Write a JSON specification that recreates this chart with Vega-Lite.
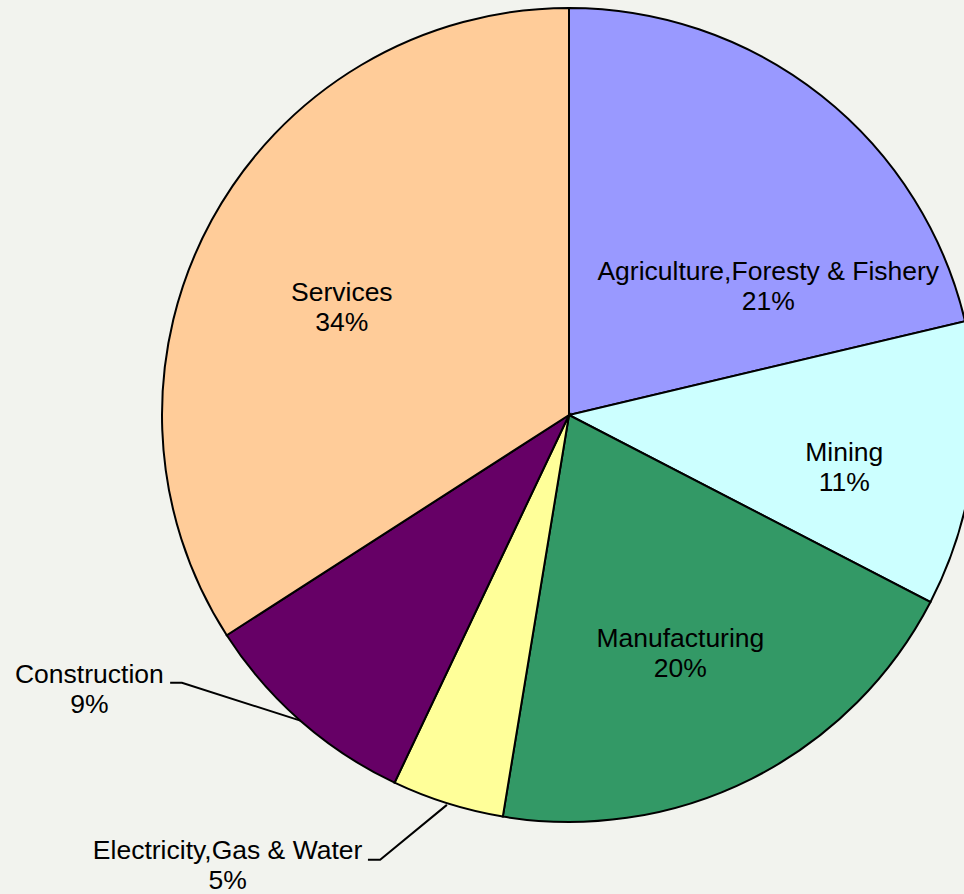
{
  "$schema": "https://vega.github.io/schema/vega-lite/v6.json",
  "width": 790,
  "height": 830,
  "autosize": "none",
  "padding": {"left": 174, "top": 0, "right": 0, "bottom": 64},
  "background": "#f2f3ee",
  "config": {
    "view": {"stroke": null},
    "text": {"font": "Liberation Sans", "fontSize": 26.5, "lineHeight": 30, "lineBreak": "\n", "align": "center", "baseline": "middle", "dy": -13, "color": "#000000"}
  },
  "datasets": {
    "sectors": [
      {"idx": 1, "category": "Agriculture,Foresty & Fishery", "value": 21.3, "text": "Agriculture,Foresty & Fishery\n21%"},
      {"idx": 2, "category": "Mining", "value": 11.3, "text": "Mining\n11%"},
      {"idx": 3, "category": "Manufacturing", "value": 20.0, "text": "Manufacturing\n20%"},
      {"idx": 4, "category": "Electricity,Gas & Water", "value": 4.45, "text": "Electricity,Gas & Water\n5%"},
      {"idx": 5, "category": "Construction", "value": 8.85, "text": "Construction\n9%"},
      {"idx": 6, "category": "Services", "value": 34.1, "text": "Services\n34%"}
    ],
    "leaders": [
      {"callout": "Construction", "seq": 1, "u": -0.660, "v": -0.751},
      {"callout": "Construction", "seq": 2, "u": -0.951, "v": -0.658},
      {"callout": "Construction", "seq": 3, "u": -0.980, "v": -0.658},
      {"callout": "Electricity,Gas & Water", "seq": 1, "u": -0.300, "v": -0.958},
      {"callout": "Electricity,Gas & Water", "seq": 2, "u": -0.464, "v": -1.093},
      {"callout": "Electricity,Gas & Water", "seq": 3, "u": -0.494, "v": -1.093}
    ]
  },
  "layer": [
    {
      "data": {"name": "sectors"},
      "encoding": {
        "theta": {"field": "value", "type": "quantitative", "stack": true},
        "detail": {"field": "category", "type": "nominal"},
        "order": {"field": "idx", "type": "quantitative"}
      },
      "layer": [
        {
          "mark": {"type": "arc", "outerRadius": 407, "stroke": "#000000", "strokeWidth": 2},
          "encoding": {
            "color": {
              "field": "category",
              "type": "nominal",
              "scale": {
                "domain": ["Agriculture,Foresty & Fishery", "Mining", "Manufacturing", "Electricity,Gas & Water", "Construction", "Services"],
                "range": ["#9999FF", "#CCFFFF", "#339966", "#FFFF99", "#660066", "#FFCC99"]
              },
              "legend": null
            }
          }
        },
        {
          "mark": {"type": "text", "radius": 238, "thetaOffset": 0.323},
          "encoding": {"text": {"condition": {"test": "datum.idx === 1", "field": "text", "type": "nominal"}, "value": ""}}
        },
        {
          "mark": {"type": "text", "radius": 280, "thetaOffset": 0.061},
          "encoding": {"text": {"condition": {"test": "datum.idx === 2", "field": "text", "type": "nominal"}, "value": ""}}
        },
        {
          "mark": {"type": "text", "radius": 262, "thetaOffset": 0.026},
          "encoding": {"text": {"condition": {"test": "datum.idx === 3", "field": "text", "type": "nominal"}, "value": ""}}
        },
        {
          "mark": {"type": "text", "radius": 564, "thetaOffset": 0.347},
          "encoding": {"text": {"condition": {"test": "datum.idx === 4", "field": "text", "type": "nominal"}, "value": ""}}
        },
        {
          "mark": {"type": "text", "radius": 552, "thetaOffset": 0.332},
          "encoding": {"text": {"condition": {"test": "datum.idx === 5", "field": "text", "type": "nominal"}, "value": ""}}
        },
        {
          "mark": {"type": "text", "radius": 252, "thetaOffset": -0.052},
          "encoding": {"text": {"condition": {"test": "datum.idx === 6", "field": "text", "type": "nominal"}, "value": ""}}
        }
      ]
    },
    {
      "data": {"name": "leaders"},
      "mark": {"type": "line", "color": "#000000", "strokeWidth": 2},
      "encoding": {
        "x": {"field": "u", "type": "quantitative", "scale": {"domain": [-0.9705, 0.9705], "nice": false, "zero": false}, "axis": null},
        "y": {"field": "v", "type": "quantitative", "scale": {"domain": [-1.0197, 1.0197], "nice": false, "zero": false}, "axis": null},
        "detail": {"field": "callout", "type": "nominal"},
        "order": {"field": "seq", "type": "quantitative"}
      }
    }
  ]
}
